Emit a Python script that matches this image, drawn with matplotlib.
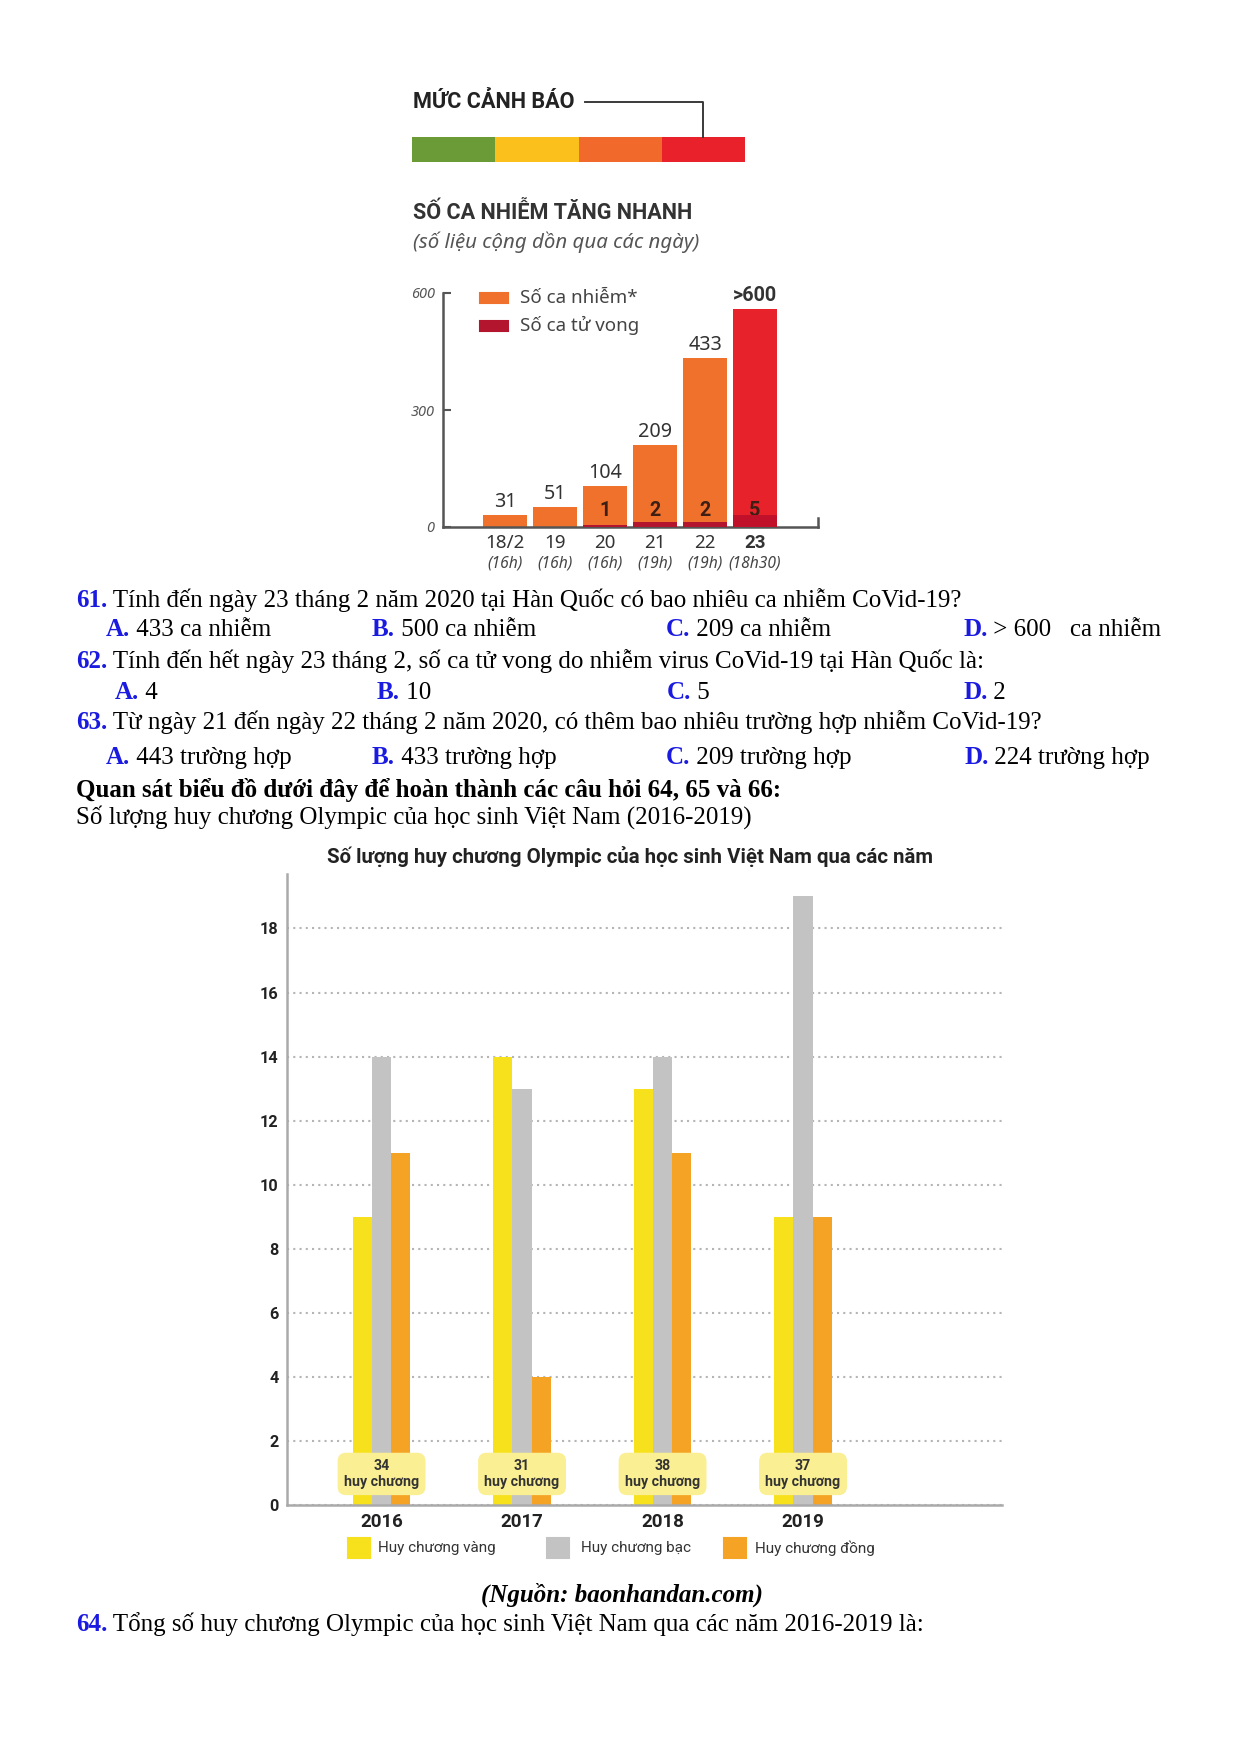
import matplotlib
matplotlib.use('Agg')
import matplotlib.pyplot as plt
from matplotlib.patches import Rectangle
from matplotlib import font_manager
from matplotlib.transforms import blended_transform_factory

# ---------------- data ----------------
alert_colors = ['#6b9b37', '#fcc01d', '#f26a2b', '#e8212b']

days = ['18/2', '19', '20', '21', '22', '23']
hours = ['(16h)', '(16h)', '(16h)', '(19h)', '(19h)', '(18h30)']
infected = [31, 51, 104, 209, 433, 560]
infected_labels = ['31', '51', '104', '209', '433', '>600']
deaths = [0, 0, 1, 2, 2, 5]
yticks_top = [0, 300, 600]

years = ['2016', '2017', '2018', '2019']
gold = [9, 14, 13, 9]
silver = [14, 13, 14, 19]
bronze = [11, 4, 11, 9]
totals = [34, 31, 38, 37]
yticks_bottom = [0, 2, 4, 6, 8, 10, 12, 14, 16, 18]
medal_names = ['Huy chương vàng', 'Huy chương bạc', 'Huy chương đồng']

# ---------------- setup ----------------
names = {f.name for f in font_manager.fontManager.ttflist}
SANS = 'Noto Sans'
BOLD = 'Roboto'
COND = 'Liberation Sans Narrow' if 'Liberation Sans Narrow' in names else 'Roboto'
SERIF = 'Liberation Serif'
BLUE = '#1a1ae0'

W, H = 1240, 1754
DPI = 150
fig = plt.figure(figsize=(W / DPI, H / DPI), dpi=DPI)
fig.patch.set_facecolor('white')
ax0 = fig.add_axes([0, 0, 1, 1])
ax0.set_xlim(0, W)
ax0.set_ylim(H, 0)
ax0.axis('off')
ax0.set_zorder(5)
ax0.patch.set_alpha(0)


def rect(l, t, r, b):
    return [l / W, 1 - b / H, (r - l) / W, (b - t) / H]


# ---------------- top infographic ----------------
ax0.text(413, 102, 'MỨC CẢNH BÁO', fontsize=10.4, weight='bold', va='center',
         color='#222222', family=BOLD)
ax0.plot([585, 703, 703], [102, 102, 137], color='#333333', lw=0.9)

axa = fig.add_axes(rect(412, 137, 745, 162))
axa.barh(0, [1] * len(alert_colors), left=list(range(len(alert_colors))),
         color=alert_colors, height=1)
axa.set_xlim(0, len(alert_colors))
axa.set_ylim(-0.5, 0.5)
axa.axis('off')

ax0.text(413, 213, 'SỐ CA NHIỄM TĂNG NHANH', fontsize=10.4, weight='bold',
         va='center', color='#333333', family=BOLD)
ax0.text(413, 242, '(số liệu cộng dồn qua các ngày)', fontsize=9.8,
         style='italic', va='center', color='#555555', family=SANS)

ax1 = fig.add_axes(rect(443, 293, 818, 527))
x = list(range(len(days)))
bar_cols = ['#f0712c'] * 5 + ['#e8222a']
ax1.bar(x, infected, width=0.88, color=bar_cols, zorder=2)
ax1.set_xlim(-1.24, 6.26)
ax1.set_ylim(0, 600)
for s in ['top', 'right']:
    ax1.spines[s].set_visible(False)
for s in ['left', 'bottom']:
    ax1.spines[s].set_color('#555555')
    ax1.spines[s].set_linewidth(1.2)
ax1.set_yticks(yticks_top)
ax1.set_yticklabels([str(v) for v in yticks_top], fontstyle='italic',
                    color='#555555', fontsize=7, family=SANS)
ax1.tick_params(axis='y', direction='in', length=4, width=1, color='#555555', pad=4)
ax1.set_xticks([])

ax2 = ax1.twinx()
ax2.set_ylim(0, 95)
death_cols = ['#b3152e'] * 5 + ['#c0102a']
ax2.bar(x, deaths, width=0.88, color=death_cols, zorder=3)
ax2.axis('off')

for i, (v, lbl) in enumerate(zip(infected, infected_labels)):
    ax1.annotate(lbl, (i, v), xytext=(0, 1.5), textcoords='offset points',
                 ha='center', va='bottom', fontsize=9.5, color='#333333',
                 weight='bold' if i == 5 else 'normal',
                 family=BOLD if i == 5 else SANS,
                 annotation_clip=False)
for i, d in enumerate(deaths):
    if d > 0:
        ax1.annotate(str(d), (i, 0), xytext=(0, 8), textcoords='offset points',
                     ha='center', va='center', fontsize=9.5, weight='bold',
                     color='#3d1f14', family=BOLD, zorder=6)

tr = blended_transform_factory(ax1.transData, ax0.transData)
for i in x:
    ax0.text(i, 543, days[i], transform=tr, ha='center', va='center',
             fontsize=9, color='#333333',
             family=BOLD if i == 5 else SANS,
             weight='bold' if i == 5 else 'normal')
    ax0.text(i, 563, hours[i], transform=tr, ha='center', va='center',
             fontsize=7.5, color='#444444', style='italic', family=SANS)
ax0.plot([818, 818], [518, 527], color='#555555', lw=1.2)

ax0.add_patch(Rectangle((480, 293), 28, 10, color='#f0712c'))
ax0.add_patch(Rectangle((480, 321), 28, 10, color='#b3152e'))
ax0.text(520, 298, 'Số ca nhiễm*', fontsize=9, va='center', color='#444444', family=SANS)
ax0.text(520, 325, 'Số ca tử vong', fontsize=9, va='center', color='#444444', family=SANS)


# ---------------- document text ----------------
def rich(xp, yp, parts, size=12):
    prev = None
    for txt, bold, color, italic in parts:
        kw = dict(fontsize=size, family=SERIF, color=color,
                  weight='bold' if bold else 'normal',
                  style='italic' if italic else 'normal')
        if prev is None:
            prev = ax0.text(xp, yp, txt, va='baseline', ha='left', **kw)
        else:
            prev = ax0.annotate(txt, xy=(1, 0), xycoords=prev, va='bottom',
                                ha='left', **kw)


def question(yp, num, text):
    rich(76, yp, [(num, True, BLUE, False), (' ' + text, False, 'black', False)])


def options(yp, xs, opts):
    for xp, (letter, text) in zip(xs, opts):
        rich(xp, yp, [(letter, True, BLUE, False), (' ' + text, False, 'black', False)])


question(607, '61.', 'Tính đến ngày 23 tháng 2 năm 2020 tại Hàn Quốc có bao nhiêu ca nhiễm CoVid-19?')
options(636, [106, 372, 666, 963],
        [('A.', '433 ca nhiễm'), ('B.', '500 ca nhiễm'), ('C.', '209 ca nhiễm'),
         ('D.', '> 600   ca nhiễm')])
question(668, '62.', 'Tính đến hết ngày 23 tháng 2, số ca tử vong do nhiễm virus CoVid-19 tại Hàn Quốc là:')
options(699, [115, 377, 667, 963],
        [('A.', '4'), ('B.', '10'), ('C.', '5'), ('D.', '2')])
question(729, '63.', 'Từ ngày 21 đến ngày 22 tháng 2 năm 2020, có thêm bao nhiêu trường hợp nhiễm CoVid-19?')
options(764, [106, 372, 666, 964],
        [('A.', '443 trường hợp'), ('B.', '433 trường hợp'), ('C.', '209 trường hợp'),
         ('D.', '224 trường hợp')])
rich(76, 797, [('Quan sát biểu đồ dưới đây để hoàn thành các câu hỏi 64, 65 và 66:', True, 'black', False)])
rich(76, 824, [('Số lượng huy chương Olympic của học sinh Việt Nam (2016-2019)', False, 'black', False)])
ax0.text(622, 1602, '(Nguồn: baonhandan.com)', fontsize=12, family=SERIF,
         weight='bold', style='italic', ha='center', va='baseline')
question(1631, '64.', 'Tổng số huy chương Olympic của học sinh Việt Nam qua các năm 2016-2019 là:')

# ---------------- bottom chart ----------------
ax0.text(630, 857, 'Số lượng huy chương Olympic của học sinh Việt Nam qua các năm',
         fontsize=9.8, weight='bold', ha='center', va='center', color='#222222',
         family=COND)

ax3 = fig.add_axes(rect(287, 874, 1002, 1505))
xs = list(range(len(years)))
bw = 0.137
ax3.bar([v - bw for v in xs], gold, bw, color='#f6e11c', zorder=2)
ax3.bar(xs, silver, bw, color='#c3c3c3', zorder=2)
ax3.bar([v + bw for v in xs], bronze, bw, color='#f4a324', zorder=2)
ax3.set_xlim(-0.673, 4.416)
ax3.set_ylim(0, 19.7)
ax3.set_yticks(yticks_bottom)
ax3.set_yticklabels([str(v) for v in yticks_bottom], fontsize=7.8,
                    weight='bold', color='#222222', family=BOLD)
ax3.yaxis.grid(True, linestyle=(0, (1, 2)), color='#b5b5b5', lw=1.0)
ax3.set_axisbelow(True)
ax3.set_xticks(xs)
ax3.set_xticklabels(years, fontsize=9, weight='bold', color='#222222', family=COND)
ax3.tick_params(axis='both', length=0)
ax3.tick_params(axis='y', pad=4)
ax3.tick_params(axis='x', pad=4)
for s in ['top', 'right']:
    ax3.spines[s].set_visible(False)
for s in ['left', 'bottom']:
    ax3.spines[s].set_color('#aaaaaa')
    ax3.spines[s].set_linewidth(1.2)

for xv, t in zip(xs, totals):
    ax3.text(xv, 0.97, f'{t}\nhuy chương', ha='center', va='center',
             fontsize=6.8, weight='bold', color='#333333', family=COND,
             linespacing=1.15, zorder=5,
             bbox=dict(boxstyle='round,pad=0.45,rounding_size=0.6',
                       fc='#faef93', ec='none'))

leg_cols = ['#f6e11c', '#c3c3c3', '#f4a324']
leg_sq_x = [348, 547, 724]
leg_tx_x = [378, 581, 755]
for c, sx, tx, name in zip(leg_cols, leg_sq_x, leg_tx_x, medal_names):
    ax0.add_patch(Rectangle((sx, 1538), 22, 20, color=c))
    ax0.text(tx, 1548, name, fontsize=7.3, va='center', color='#333333', family=COND)

fig.savefig('out.png', dpi=DPI)
